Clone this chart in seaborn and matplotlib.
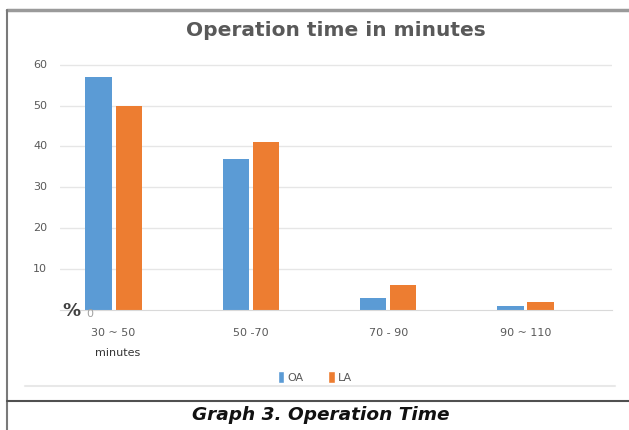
import pandas as pd
import matplotlib
matplotlib.use('Agg')
import matplotlib.pyplot as plt
from matplotlib.lines import Line2D
from matplotlib.patches import Patch
import seaborn as sns

# Dados
categories = ['30 ~ 50', '50 -70', '70 - 90', '90 ~ 110']
oa_values = [57, 37, 3, 1]
la_values = [50, 41, 6, 2]
series = ['OA', 'LA']
y_ticks = [10, 20, 30, 40, 50, 60]

colors = {'OA': '#5B9BD5', 'LA': '#ED7D31'}

df = pd.DataFrame({
    'cat': categories * 2,
    'val': oa_values + la_values,
    'grp': ['OA'] * len(categories) + ['LA'] * len(categories),
})

sns.set_style('white')
W, H = 629, 430
fig = plt.figure(figsize=(W / 100, H / 100), dpi=100)

def fx(px):
    return px / W

def fy(py):
    return 1 - py / H

ax = fig.add_axes([fx(60), fy(310), fx(612) - fx(60), fy(63) - fy(310)])
sns.barplot(data=df, x='cat', y='val', hue='grp', hue_order=series, palette=colors,
            width=0.44, gap=0.13, legend=False, ax=ax, saturation=1, linewidth=0)

ax.set_ylim(0, 60.4)
ax.set_xlim(-0.39, 3.63)
ax.set_yticks(y_ticks)
ax.set_yticklabels([])
ax.yaxis.grid(True, color='#e6e6e6', lw=1)
ax.set_axisbelow(True)
for s in ['top', 'right', 'left']:
    ax.spines[s].set_visible(False)
ax.spines['bottom'].set_color('#d9d9d9')
ax.tick_params(axis='both', length=0)
ax.tick_params(axis='x', labelsize=8, labelcolor='#595959', pad=13)
ax.set_xlabel('')
ax.set_ylabel('')

# rótulos do eixo y desenhados fora do eixo
for t in y_ticks:
    ypx = 310 - t * (310 - 63) / 60.4
    fig.text(fx(40), fy(ypx), str(t), ha='center', va='center', fontsize=8, color='#595959')
fig.text(fx(71), fy(311), '%', ha='center', va='center', fontsize=13, fontweight='bold', color='#404040')
fig.text(fx(90), fy(314), '0', ha='center', va='center', fontsize=8, color='#a0a0a0')
fig.text(fx(118), fy(353), 'minutes', ha='center', va='center', fontsize=8, color='#333333')

fig.text(fx(336), fy(31), 'Operation time in minutes', ha='center', va='center',
         fontsize=14.5, fontweight='bold', color='#595959')

handles = [Patch(facecolor=colors[s], label=s) for s in series]
leg = fig.legend(handles=handles, loc='center', bbox_to_anchor=(fx(315), fy(377)), ncol=2,
                 frameon=False, fontsize=8, handlelength=0.6, handleheight=1.2,
                 handletextpad=0.3, columnspacing=2.2)
for t in leg.get_texts():
    t.set_color('#595959')

# moldura e legenda da figura
fig.add_artist(Line2D([fx(7), 1], [fy(10), fy(10)], color='#9a9a9a', lw=2.5))
fig.add_artist(Line2D([fx(7), fx(7)], [fy(10), 0], color='#7a7a7a', lw=1.5))
fig.add_artist(Line2D([fx(7), 1], [fy(401), fy(401)], color='#505050', lw=1.5))
fig.add_artist(Line2D([fx(25), fx(615)], [fy(386), fy(386)], color='#e8e8e8', lw=1.5))
fig.text(fx(321), fy(415), 'Graph 3. Operation Time', ha='center', va='center',
         fontsize=13.3, fontweight='bold', fontstyle='italic', color='#111111')

fig.savefig('out.png', dpi=100)
